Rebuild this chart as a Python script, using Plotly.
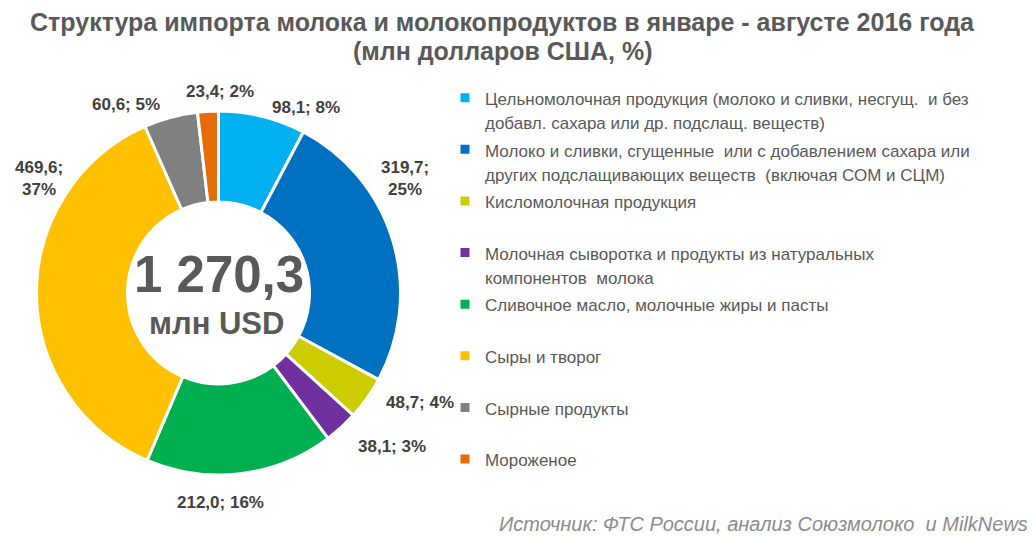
import plotly.graph_objects as go

# slice data (clockwise from 12 o'clock)
categories = [
    "Цельномолочная продукция (молоко и сливки, несгущ.  и без<br>добавл. сахара или др. подслащ. веществ)",
    "Молоко и сливки, сгущенные  или с добавлением сахара или<br>других подслащивающих веществ  (включая СОМ и СЦМ)",
    "Кисломолочная продукция",
    "Молочная сыворотка и продукты из натуральных<br>компонентов  молока",
    "Сливочное масло, молочные жиры и пасты",
    "Сыры и творог",
    "Сырные продукты",
    "Мороженое",
]
values = [98.1, 319.7, 48.7, 38.1, 212.0, 469.6, 60.6, 23.4]
percents = [8, 25, 4, 3, 16, 37, 5, 2]
colors = ["#00B0F0", "#0070C0", "#CCCC00", "#7030A0",
          "#00B050", "#FFC000", "#808080", "#E46C0A"]

total_text = "1 270,3"
unit_text = "млн USD"
title_lines = ["Структура импорта молока и молокопродуктов в январе - августе 2016 года",
               "(млн долларов США, %)"]
source_text = "Источник: ФТС России, анализ Союзмолоко  и MilkNews"

W, H = 1032, 536
FONT = "Liberation Sans, Arial, sans-serif"
GREY = "#595959"

# data-label anchor points (px from top-left), placed like Excel's best fit
label_xy = [(306, 107), (405, 178), (420, 402), (392, 446),
            (220, 502), (39, 178), (126, 104), (220, 91)]
two_line = [False, True, False, False, False, True, False, False]


def fmt(v):
    return f"{v:.1f}".replace(".", ",")


def px(x, y):
    # pixel position -> paper coords
    return x / W, 1 - y / H


# legend entries: every entry two lines tall so they are evenly spaced
legend_names = []
for name in categories:
    if "<br>" not in name:
        name = name + "<br> "
    legend_names.append("<span style='font-size:17px'>" + name + "</span>")

fig = go.Figure(go.Pie(
    labels=legend_names,
    values=values,
    customdata=percents,
    textinfo="none",
    marker=dict(colors=colors, line=dict(color="white", width=3)),
    hole=0.5,
    sort=False,
    direction="clockwise",
    rotation=0,
    automargin=False,
    domain=dict(x=[36.5 / W, 400.5 / W], y=[1 - 475 / H, 1 - 111 / H]),
    hovertemplate="%{value:.1f}; %{customdata}%<extra></extra>",
))

for v, p, (lx, ly), br in zip(values, percents, label_xy, two_line):
    sep = ";<br>" if br else "; "
    ax, ay = px(lx, ly)
    fig.add_annotation(x=ax, y=ay, xref="paper", yref="paper",
                       xanchor="center", yanchor="middle",
                       text="<b>" + fmt(v) + sep + str(p) + "%</b>",
                       showarrow=False, align="center",
                       font=dict(size=17, color="#404040", family=FONT))

cx, cy = px(218.5, 274)
fig.add_annotation(x=cx, y=cy, xref="paper", yref="paper",
                   xanchor="center", yanchor="middle",
                   text="<b>" + total_text + "</b>", showarrow=False,
                   font=dict(size=51, color=GREY, family=FONT))
cx, cy = px(216, 323)
fig.add_annotation(x=cx, y=cy, xref="paper", yref="paper",
                   xanchor="center", yanchor="middle",
                   text="<b>" + unit_text + "</b>", showarrow=False,
                   font=dict(size=31, color=GREY, family=FONT))

# title, one annotation per line
for line, ty in zip(title_lines, [22, 51]):
    tx, typ = px(502, ty)
    fig.add_annotation(x=tx, y=typ, xref="paper", yref="paper",
                       xanchor="center", yanchor="middle",
                       text="<b>" + line + "</b>", showarrow=False,
                       font=dict(size=25, color=GREY, family=FONT))

sx, sy = px(1030, 524)
fig.add_annotation(x=sx, y=sy, xref="paper", yref="paper",
                   xanchor="right", yanchor="middle",
                   text="<i>" + source_text + "</i>", showarrow=False,
                   font=dict(size=20, color="#8C8C8C", family=FONT))

lgx, lgy = px(445, 79)
fig.update_layout(
    width=W, height=H,
    margin=dict(l=0, r=0, t=0, b=0),
    paper_bgcolor="white",
    separators=", ",
    legend=dict(x=lgx, y=lgy, xanchor="left", yanchor="top",
                valign="top", traceorder="normal",
                font=dict(size=18.7, color=GREY, family=FONT)),
    showlegend=True,
)

fig.write_html("out.html", config={"displayModeBar": False},
               post_script="document.body.style.margin='0px';")
